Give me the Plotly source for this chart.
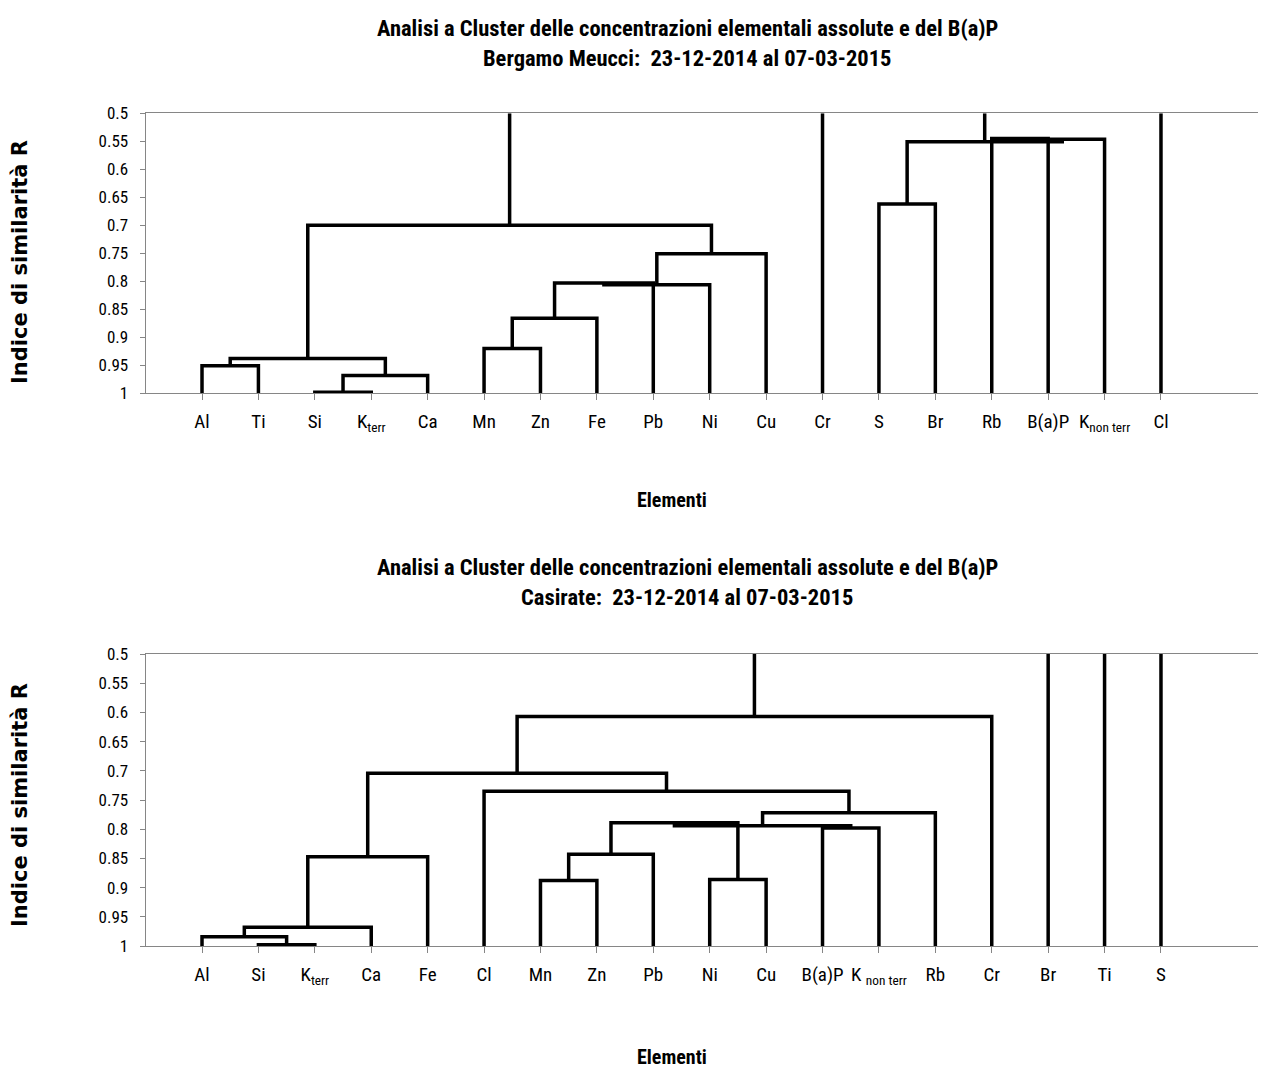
import plotly.graph_objects as go

# ---------------- data ----------------
top_labels = ["Al", "Ti", "Si", "K<sub>terr</sub>", "Ca", "Mn", "Zn", "Fe", "Pb", "Ni",
              "Cu", "Cr", "S", "Br", "Rb", "B(a)P", "K<sub>non terr</sub>", "Cl"]
# merges: (left node, right node, similarity R); ints = leaf index, "mK" = K-th merge
top_merges = [
    (2, 3, 0.998),          # m0  Si - Kterr
    ("m0", 4, 0.968),       # m1  + Ca
    (0, 1, 0.951),          # m2  Al - Ti
    ("m2", "m1", 0.938),    # m3
    (5, 6, 0.920),          # m4  Mn - Zn
    ("m4", 7, 0.866),       # m5  + Fe
    ("m5", 8, 0.803),       # m6  + Pb
    ("m6", 9, 0.806),       # m7  + Ni
    ("m7", 10, 0.751),      # m8  + Cu
    ("m3", "m8", 0.700),    # m9
    (12, 13, 0.662),        # m10 S - Br
    (14, 15, 0.545),        # m11 Rb - B(a)P
    ("m11", 16, 0.5465),    # m12 + Knonterr
    ("m10", "m12", 0.551),  # m13
]

bot_labels = ["Al", "Si", "K<sub>terr</sub>", "Ca", "Fe", "Cl", "Mn", "Zn", "Pb", "Ni",
              "Cu", "B(a)P", "K <sub>non terr</sub>", "Rb", "Cr", "Br", "Ti", "S"]
bot_merges = [
    (1, 2, 0.998),          # m0  Si - Kterr
    (0, "m0", 0.984),       # m1  Al +
    ("m1", 3, 0.968),       # m2  + Ca
    ("m2", 4, 0.847),       # m3  + Fe
    (6, 7, 0.888),          # m4  Mn - Zn
    ("m4", 8, 0.843),       # m5  + Pb
    (9, 10, 0.886),         # m6  Ni - Cu
    ("m5", "m6", 0.789),    # m7
    (11, 12, 0.798),        # m8  B(a)P - Knonterr
    ("m7", "m8", 0.794),    # m9
    ("m9", 13, 0.772),      # m10 + Rb
    (5, "m10", 0.735),      # m11 Cl +
    ("m3", "m11", 0.704),   # m12
    ("m12", 14, 0.607),     # m13 + Cr
]

y_tick_vals = [0.5, 0.55, 0.6, 0.65, 0.7, 0.75, 0.8, 0.85, 0.9, 0.95, 1.0]
y_tick_text = ["0.5", "0.55", "0.6", "0.65", "0.7", "0.75", "0.8", "0.85", "0.9", "0.95", "1"]

titles_top = ["Analisi a Cluster delle concentrazioni elementali assolute e del B(a)P",
              "Bergamo Meucci:\u00a0\u00a023-12-2014 al 07-03-2015"]
titles_bot = ["Analisi a Cluster delle concentrazioni elementali assolute e del B(a)P",
              "Casirate:\u00a0\u00a023-12-2014 al 07-03-2015"]
x_title = "Elementi"
y_title = "Indice di similarità R"

LEAF_R = 1.0
TOP_R = 0.5


def dendro_paths(n_leaves, merges):
    pos = {}
    hgt = {}
    for i in range(n_leaves):
        pos[i] = i + 1
        hgt[i] = LEAF_R
    used = set()
    xs, ys = [], []
    for k, (a, b, h) in enumerate(merges):
        xa, xb = pos[a], pos[b]
        xs += [xa, xa, xb, xb, None]
        ys += [hgt[a], h, h, hgt[b], None]
        key = "m%d" % k
        pos[key] = (xa + xb) / 2
        hgt[key] = h
        used.add(a)
        used.add(b)
    # free roots extend to the top of the axis
    for node in list(pos.keys()):
        if node not in used:
            xs += [pos[node], pos[node], None]
            ys += [hgt[node], TOP_R, None]
    return xs, ys


W, H = 1266, 1068
OFF = 8  # page body margin of the html page
NARROW = "Liberation Sans Narrow, Arial Narrow, Roboto Condensed, Liberation Sans, sans-serif"
GRAY = "#868686"

fig = go.Figure()
for (labels, merges, xa, ya) in [(top_labels, top_merges, "x", "y"),
                                 (bot_labels, bot_merges, "x2", "y2")]:
    xs, ys = dendro_paths(len(labels), merges)
    fig.add_trace(go.Scatter(x=xs, y=ys, mode="lines", xaxis=xa, yaxis=ya,
                             line=dict(color="black", width=3.5),
                             hoverinfo="skip", showlegend=False))


def py(p):
    return 1 - (p - OFF) / H


def px(p):
    return (p - OFF) / W


x0_px = 145.6
step = 56.41
x_right = 1266
x_range = [0, (x_right - x0_px) / step]

common_x = dict(range=x_range, tickvals=list(range(1, 19)), ticks="outside", ticklen=6,
                tickcolor=GRAY, showline=True, linecolor=GRAY, linewidth=1, mirror=True,
                showgrid=False, zeroline=False, ticklabelstandoff=5, automargin=False,
                tickfont=dict(family=NARROW, size=19, color="black"),
                domain=[px(x0_px), px(x_right)])
common_y = dict(range=[1.0, 0.5], tickvals=y_tick_vals, ticktext=y_tick_text,
                ticks="outside", ticklen=5, tickcolor=GRAY, showline=True, linecolor=GRAY,
                linewidth=1, showgrid=False, zeroline=False, ticklabelstandoff=8,
                automargin=False,
                tickfont=dict(family=NARROW, size=17, color="black"))

fig.update_layout(
    width=W, height=H, margin=dict(l=0, r=0, t=0, b=0, pad=0, autoexpand=False),
    plot_bgcolor="white", paper_bgcolor="white",
    xaxis=dict(common_x, anchor="y", ticktext=top_labels),
    yaxis=dict(common_y, anchor="x", domain=[py(393.3), py(113.3)]),
    xaxis2=dict(common_x, anchor="y2", ticktext=bot_labels),
    yaxis2=dict(common_y, anchor="x2", domain=[py(946), py(654)]),
)

ann = []
tfont = dict(family=NARROW, size=22.5, color="black", weight="bold")
for (lines, ys_px, xt_px, yt_px) in [(titles_top, (28, 58), 500, 262),
                                     (titles_bot, (567, 597), 1057, 805)]:
    for t, yp in zip(lines, ys_px):
        ann.append(dict(text=t, x=px(687), y=py(yp), xref="paper", yref="paper",
                        showarrow=False, xanchor="center", yanchor="middle", font=tfont))
    ann.append(dict(text=x_title, x=px(672), y=py(xt_px), xref="paper", yref="paper",
                    showarrow=False, xanchor="center", yanchor="middle",
                    font=dict(family=NARROW, size=20, color="black", weight="bold")))
    ann.append(dict(text=y_title, x=px(20), y=py(yt_px), xref="paper", yref="paper",
                    showarrow=False, xanchor="center", yanchor="middle", textangle=-90,
                    font=dict(family="DejaVu Sans, Liberation Sans, sans-serif", size=21,
                              color="black", weight="bold")))
fig.update_layout(annotations=ann)

fig.write_html("out.html")
